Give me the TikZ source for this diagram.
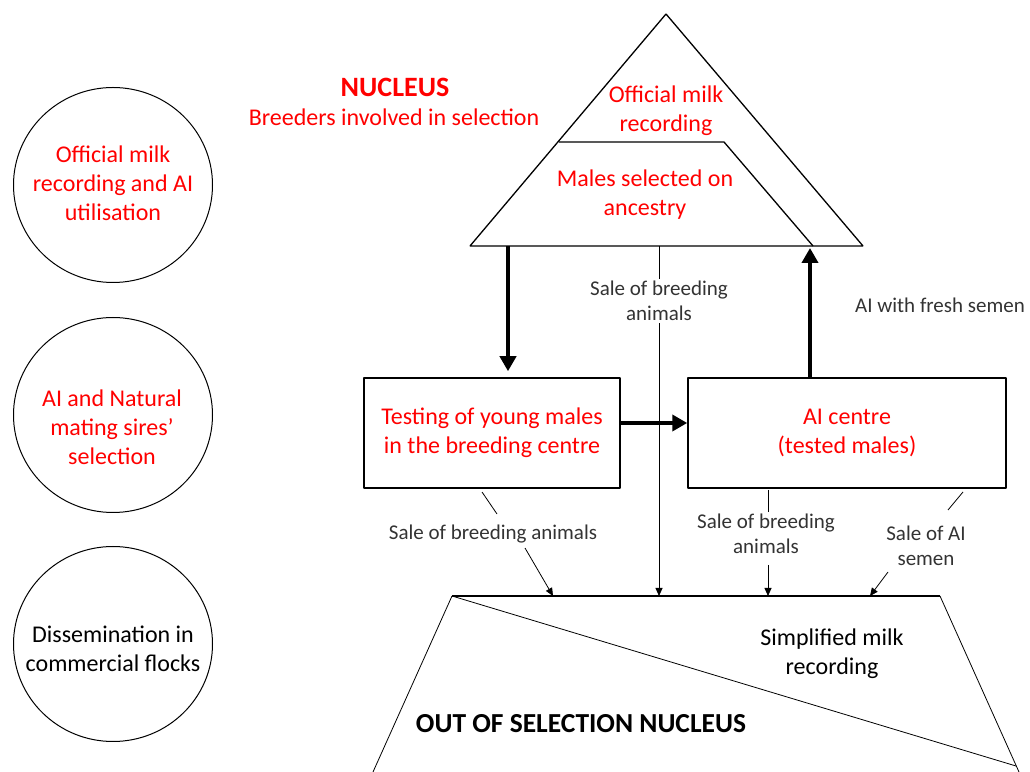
\documentclass[tikz,border=0pt]{standalone}
\usepackage{fontspec}
\setmainfont{Carlito}
\usetikzlibrary{positioning,arrows.meta,shapes.geometric}

\begin{document}
\begin{tikzpicture}[>={Triangle[length=8bp,width=7bp]},line join=bevel,
  redtext/.style={text=red,align=center,font=\fontsize{24bp}{29bp}\selectfont},
  blacktext/.style={align=center,font=\fontsize{24bp}{29bp}\selectfont},
  graytext/.style={text=black!80,align=center,font=\fontsize{21bp}{25bp}\selectfont,inner sep=2bp},
  level/.style={draw,ellipse,minimum width=199bp,minimum height=195bp,line width=1bp},
  stage/.style={draw,line width=1.5bp,minimum height=110bp},
  bigarrow/.style={line width=4.5bp,-{Triangle[length=15bp,width=16bp]}},
  thinline/.style={line width=0.8bp}]
\useasboundingbox (0bp,0bp) rectangle (1030bp,772bp);
%%
\node (milkrec) at (113bp,587bp) [level] {};
  \node (sires) at (113bp,357bp) [level] {};
  \node (flocks) at (113bp,128bp) [level] {};
  \node (milkrec text) at (113bp,589bp) [redtext] {Official milk\\recording and AI\\utilisation};
  \node (sires text) at (112bp,345bp) [redtext] {AI and Natural\\mating sires’\\selection};
  \node (flocks text) at (113bp,123bp) [blacktext] {Dissemination in\\commercial flocks};
  \node (nucleus) at (395bp,685bp) [text=red,font=\bfseries\fontsize{28bp}{29bp}\selectfont] {NUCLEUS};
  \node (breeders) at (394bp,655bp) [redtext] {Breeders involved in selection};
%
  \coordinate (apex) at (666bp,758bp);
  \coordinate (baseL) at (470bp,526bp);
  \coordinate (baseR) at (863bp,526bp);
  \coordinate (stepL) at (559bp,630bp);
  \coordinate (stepR) at (724bp,630bp);
  \coordinate (stepB) at (813bp,526bp);
  \draw [line width=1.3bp] (baseL) -- (apex) -- (baseR) -- cycle;
  \draw [line width=1.3bp] (stepL) -- (stepR) -- (stepB);
  \node (official) at (666bp,661bp) [redtext] {Official milk\\recording};
  \node (ancestry) at (645bp,577bp) [redtext] {Males selected on\\ancestry};
%
  \node (testing) at (492bp,339bp) [stage,redtext,minimum width=256bp] {Testing of young males\\in the breeding centre};
  \node (aicentre) at (847bp,339bp) [stage,redtext,minimum width=318bp] {AI centre\\(tested males)};
  \coordinate (midrow) at (650bp,349bp);
  \coordinate (downstart) at (508bp,526bp);
  \coordinate (upend) at (810bp,524bp);
  \draw [bigarrow,shorten >=6bp] (downstart) -- (downstart |- testing.north);
  \draw [bigarrow] (upend |- aicentre.north) -- (upend);
  \draw [bigarrow] (testing.east |- midrow) -- (aicentre.west |- midrow);
  \node (fresh) at (940bp,467bp) [graytext] {AI with fresh semen};
%
  \coordinate (outTL) at (452bp,176bp);
  \coordinate (outTR) at (940bp,176bp);
  \coordinate (outBL) at (373bp,0bp);
  \coordinate (outBR) at (1019bp,0bp);
  \coordinate (outDiag) at (1016bp,6bp);
  \draw [thinline] (outBL) -- (outTL);
  \draw [thinline] (outTR) -- (outBR);
  \draw [line width=1.5bp] (outTL) -- (outTR);
  \draw [thinline] (outTL) -- (outDiag);
  \node (simplified) at (832bp,118bp) [blacktext] {Simplified milk\\recording};
  \node (outnucleus) at (581bp,48bp) [font=\bfseries\fontsize{27.5bp}{29bp}\selectfont] {OUT OF SELECTION NUCLEUS};
%
  \node (salenucleus) at (659bp,471bp) [graytext] {Sale of breeding\\animals};
  \coordinate (saletop) at (659bp,526bp);
  \coordinate (salebot) at (659bp,176bp);
  \draw [thinline] (saletop) -- (salenucleus.north);
  \draw [thinline,->] (salenucleus.south) -- (salebot);
  \node (saleyoung) at (493bp,238bp) [graytext] {Sale of breeding animals};
  \coordinate (young1) at (482bp,280bp);
  \coordinate (young2) at (497bp,258bp);
  \coordinate (young3) at (525bp,224bp);
  \coordinate (young4) at (553bp,176bp);
  \draw [thinline] (young1) -- (young2);
  \draw [thinline,->] (young3) -- (young4);
  \node (saleai) at (766bp,238bp) [graytext] {Sale of breeding\\animals};
  \coordinate (ai1) at (768bp,282bp);
  \coordinate (ai2) at (768bp,260bp);
  \coordinate (ai3) at (768bp,207bp);
  \coordinate (ai4) at (768bp,176bp);
  \draw [thinline] (ai1) -- (ai2);
  \draw [thinline,->] (ai3) -- (ai4);
  \node (semen) at (926bp,226bp) [graytext] {Sale of AI\\semen};
  \coordinate (semen1) at (963bp,280bp);
  \coordinate (semen2) at (948bp,262bp);
  \coordinate (semen3) at (888bp,200bp);
  \coordinate (semen4) at (870bp,176bp);
  \draw [thinline] (semen1) -- (semen2);
  \draw [thinline,->] (semen3) -- (semen4);
%
\end{tikzpicture}
\end{document}
